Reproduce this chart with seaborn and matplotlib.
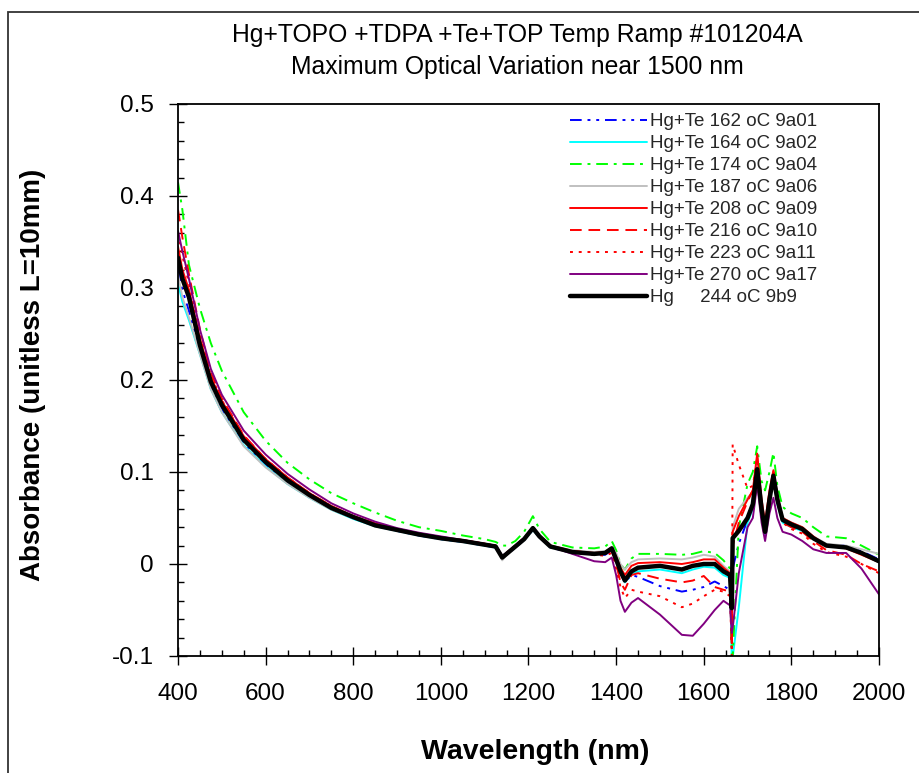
import matplotlib
matplotlib.use("Agg")
import matplotlib.pyplot as plt
import seaborn as sns
import pandas as pd
from matplotlib.patches import Rectangle

wavelength = [400, 410, 425, 450, 475, 500, 550, 600, 650, 700, 750, 800, 850, 900, 950, 1000,
              1050, 1100, 1125, 1140, 1150, 1170, 1190, 1210, 1225, 1250, 1300, 1350, 1375, 1390,
              1400, 1410, 1420, 1435, 1450, 1500, 1550, 1575, 1600, 1625, 1645, 1660, 1664, 1666,
              1680, 1700, 1712, 1722, 1732, 1740, 1750, 1759, 1768, 1780, 1800, 1825, 1850, 1880,
              1925, 1960, 2000]

hgte_162 = [0.320, 0.298, 0.275, 0.232, 0.193, 0.168, 0.131, 0.108, 0.089, 0.073, 0.060, 0.050, 0.042, 0.036, 0.031, 0.027,
            0.024, 0.020, 0.018, 0.007, 0.010, 0.018, 0.026, 0.037, 0.029, 0.018, 0.012, 0.010, 0.010, 0.015,
            0.003, -0.010, -0.020, -0.012, -0.014, -0.024, -0.030, -0.028, -0.025, -0.019, -0.024, -0.028, -0.060, -0.005,
            0.022, 0.048, 0.062, 0.100, 0.057, 0.034, 0.068, 0.093, 0.068, 0.047, 0.042, 0.038, 0.028, 0.021,
            0.020, 0.014, 0.005]

hgte_164 = [0.305, 0.285, 0.265, 0.228, 0.190, 0.165, 0.129, 0.106, 0.087, 0.072, 0.059, 0.049, 0.041, 0.036, 0.031, 0.027,
            0.024, 0.020, 0.018, 0.008, 0.011, 0.018, 0.026, 0.037, 0.029, 0.018, 0.013, 0.011, 0.012, 0.016,
            0.004, -0.010, -0.020, -0.011, -0.008, -0.006, -0.010, -0.006, -0.003, -0.004, -0.012, -0.015, -0.105, -0.102,
            -0.047, 0.045, 0.060, 0.100, 0.055, 0.032, 0.065, 0.092, 0.065, 0.045, 0.040, 0.036, 0.027, 0.020,
            0.018, 0.012, 0.004]

hgte_174 = [0.415, 0.385, 0.325, 0.278, 0.240, 0.210, 0.165, 0.134, 0.110, 0.092, 0.077, 0.066, 0.056, 0.047, 0.040, 0.036,
            0.031, 0.027, 0.024, 0.020, 0.020, 0.025, 0.035, 0.052, 0.038, 0.024, 0.018, 0.017, 0.019, 0.025,
            0.015, 0.000, -0.006, 0.006, 0.011, 0.011, 0.010, 0.011, 0.014, 0.012, 0.004, -0.005, -0.102, -0.102,
            0.040, 0.087, 0.100, 0.128, 0.090, 0.080, 0.100, 0.121, 0.085, 0.062, 0.055, 0.050, 0.040, 0.030,
            0.028, 0.020, 0.010]

hgte_187 = [0.315, 0.290, 0.268, 0.228, 0.190, 0.165, 0.128, 0.105, 0.087, 0.072, 0.059, 0.050, 0.042, 0.037, 0.032, 0.028,
            0.025, 0.021, 0.020, 0.004, 0.010, 0.019, 0.027, 0.038, 0.030, 0.020, 0.015, 0.013, 0.014, 0.018,
            0.012, 0.000, -0.006, 0.002, 0.005, 0.006, 0.005, 0.007, 0.010, 0.008, -0.002, -0.008, -0.030, 0.040,
            0.060, 0.072, 0.078, 0.110, 0.065, 0.040, 0.075, 0.100, 0.075, 0.050, 0.045, 0.040, 0.030, 0.022,
            0.020, 0.016, 0.011]

hgte_208 = [0.345, 0.320, 0.298, 0.245, 0.203, 0.177, 0.139, 0.114, 0.094, 0.077, 0.063, 0.052, 0.044, 0.038, 0.033, 0.029,
            0.026, 0.022, 0.020, 0.008, 0.012, 0.020, 0.028, 0.040, 0.031, 0.020, 0.014, 0.012, 0.013, 0.018,
            0.008, -0.004, -0.012, -0.002, 0.001, 0.002, 0.000, 0.002, 0.005, 0.005, -0.004, -0.010, -0.060, 0.035,
            0.052, 0.070, 0.080, 0.120, 0.070, 0.045, 0.080, 0.102, 0.075, 0.050, 0.045, 0.040, 0.030, 0.020,
            0.017, 0.010, 0.002]

hgte_216 = [0.385, 0.355, 0.315, 0.255, 0.208, 0.180, 0.140, 0.114, 0.094, 0.077, 0.063, 0.052, 0.044, 0.038, 0.033, 0.029,
            0.026, 0.022, 0.020, 0.008, 0.012, 0.020, 0.028, 0.040, 0.031, 0.020, 0.014, 0.012, 0.011, 0.015,
            0.000, -0.020, -0.028, -0.012, -0.010, -0.016, -0.020, -0.018, -0.013, -0.025, -0.028, -0.030, -0.090, 0.020,
            0.045, 0.068, 0.080, 0.115, 0.065, 0.040, 0.075, 0.100, 0.070, 0.045, 0.040, 0.035, 0.025, 0.015,
            0.010, 0.000, -0.008]

hgte_223 = [0.360, 0.335, 0.305, 0.250, 0.205, 0.178, 0.139, 0.114, 0.094, 0.077, 0.063, 0.052, 0.044, 0.038, 0.033, 0.029,
            0.026, 0.022, 0.020, 0.008, 0.012, 0.020, 0.028, 0.040, 0.031, 0.020, 0.013, 0.010, 0.009, 0.012,
            -0.005, -0.025, -0.037, -0.028, -0.030, -0.035, -0.047, -0.043, -0.035, -0.028, -0.030, -0.035, -0.100, 0.130,
            0.108, 0.082, 0.085, 0.115, 0.065, 0.040, 0.075, 0.100, 0.070, 0.045, 0.038, 0.033, 0.022, 0.013,
            0.008, 0.000, -0.010]

hgte_270 = [0.362, 0.340, 0.310, 0.255, 0.212, 0.184, 0.145, 0.119, 0.098, 0.081, 0.066, 0.055, 0.046, 0.039, 0.034, 0.030,
            0.026, 0.022, 0.020, 0.009, 0.012, 0.020, 0.028, 0.038, 0.030, 0.019, 0.011, 0.003, 0.002, 0.007,
            -0.012, -0.040, -0.052, -0.042, -0.037, -0.055, -0.077, -0.078, -0.065, -0.050, -0.040, -0.045, -0.075, -0.070,
            -0.010, 0.040, 0.050, 0.087, 0.045, 0.025, 0.055, 0.072, 0.050, 0.035, 0.032, 0.025, 0.016, 0.012,
            0.012, -0.005, -0.033]

hg_244 = [0.333, 0.310, 0.290, 0.238, 0.198, 0.173, 0.135, 0.111, 0.091, 0.075, 0.061, 0.051, 0.042, 0.037, 0.032, 0.028,
          0.025, 0.021, 0.019, 0.007, 0.011, 0.019, 0.027, 0.039, 0.030, 0.019, 0.013, 0.011, 0.012, 0.017,
          0.005, -0.008, -0.018, -0.008, -0.004, -0.002, -0.006, -0.002, 0.000, 0.000, -0.008, -0.012, -0.048, 0.028,
          0.036, 0.050, 0.065, 0.103, 0.060, 0.035, 0.070, 0.096, 0.070, 0.048, 0.043, 0.038, 0.028, 0.020,
          0.018, 0.012, 0.003]

labels = ["Hg+Te 162 oC 9a01", "Hg+Te 164 oC 9a02", "Hg+Te 174 oC 9a04", "Hg+Te 187 oC 9a06",
          "Hg+Te 208 oC 9a09", "Hg+Te 216 oC 9a10", "Hg+Te 223 oC 9a11", "Hg+Te 270 oC 9a17",
          "Hg     244 oC 9b9"]
series = [hgte_162, hgte_164, hgte_174, hgte_187, hgte_208, hgte_216, hgte_223, hgte_270, hg_244]
colors = ["#0000FF", "#00FFFF", "#00FF00", "#C0C0C0", "#FF0000", "#FF0000", "#FF0000", "#800080", "#000000"]
styles = [(0, (6, 3, 1.5, 3, 1.5, 3)), "-", (0, (6, 3, 1.5, 3)), "-", "-", (0, (6, 3.5)), (0, (1.5, 3)), "-", "-"]
widths = [1.4, 1.4, 1.4, 1.4, 1.4, 1.4, 1.4, 1.4, 3.2]

sns.set_theme(style="white")
plt.rcParams["font.family"] = ["Liberation Sans", "DejaVu Sans"]

fig = plt.figure(figsize=(9.2, 7.73), dpi=100)
ax = fig.add_axes([178 / 920, 1 - 656 / 773, (879 - 178) / 920, (656 - 104) / 773])

for vals, lab, col, ls, lw in zip(series, labels, colors, styles, widths):
    df = pd.DataFrame({"Wavelength": wavelength, "Absorbance": vals})
    sns.lineplot(data=df, x="Wavelength", y="Absorbance", ax=ax, color=col, linestyle=ls,
                 linewidth=lw, label=lab, estimator=None, sort=False)

ax.set_xlim(400, 2000)
ax.set_ylim(-0.1, 0.5)
ax.set_xticks([400, 600, 800, 1000, 1200, 1400, 1600, 1800, 2000])
ax.set_xticks(list(range(450, 2000, 50)), minor=True)
ax.set_yticks([-0.1, 0, 0.1, 0.2, 0.3, 0.4, 0.5])
ax.set_yticklabels(["-0.1", "0", "0.1", "0.2", "0.3", "0.4", "0.5"])
ax.set_yticks([round(-0.1 + 0.02 * i, 2) for i in range(31)], minor=True)
ax.tick_params(axis="both", which="major", direction="inout", length=13, width=1, color="black",
               labelsize=17.5, labelcolor="black")
ax.tick_params(axis="x", which="major", pad=13)
ax.tick_params(axis="y", which="major", pad=11)
ax.tick_params(axis="both", which="minor", direction="in", length=4.5, width=1, color="black")
ax.tick_params(bottom=True, left=True, which="both")
for sp in ax.spines.values():
    sp.set_color("black")
    sp.set_linewidth(1.3)

ax.set_xlabel("Wavelength (nm)", fontsize=20.5, fontweight="bold", color="black")
ax.xaxis.label.set_va("center")
ax.xaxis.set_label_coords(0.51, (656 - 752) / 552)
ax.set_ylabel("Absorbance (unitless L=10mm)", fontsize=20, fontweight="bold", color="black")
ax.yaxis.label.set_va("center")
ax.yaxis.set_label_coords((33 - 178) / 701, 0.51)

fig.text(0.562, 1 - 42 / 773, "Hg+TOPO +TDPA +Te+TOP Temp Ramp #101204A", ha="center", va="baseline",
         fontsize=17.8, color="black")
fig.text(0.562, 1 - 74 / 773, "Maximum Optical Variation near 1500 nm", ha="center", va="baseline",
         fontsize=17.8, color="black")

leg = ax.legend(loc="upper left", bbox_to_anchor=(0.543, 1.004), frameon=False, fontsize=13.5,
                handlelength=4.1, handletextpad=0.15, labelspacing=0.26, borderpad=0.1)

fig.patches.append(Rectangle((8 / 920, -0.05), 1.2, 1 - 12 / 773 + 0.05, transform=fig.transFigure,
                             fill=False, edgecolor="#333333", linewidth=1.3))

fig.savefig("out.png", dpi=100)
